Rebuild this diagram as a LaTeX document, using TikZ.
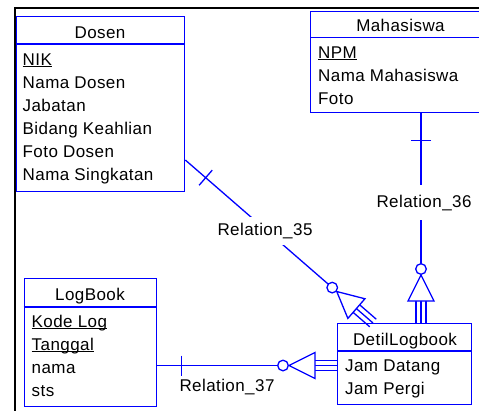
\documentclass[tikz,border=0pt]{standalone}
\usepackage{fontspec}
\setmainfont[LetterSpace=2.5]{Liberation Sans}
\usetikzlibrary{calc}
\definecolor{erblue}{RGB}{0,0,255}
\newlength\ulwd
\newcommand\ulk[1]{\settowidth\ulwd{#1}\rlap{\rule[-2.2pt]{\ulwd}{1.2pt}}#1}
\newcommand\erfont{\fontsize{17}{20}\selectfont}
\tikzset{
  ent/.style={draw=erblue, line width=1.3pt, anchor=north west, inner sep=0pt},
  rel/.style={draw=erblue, line width=1.3pt},
  attr/.style={anchor=base west, inner sep=0pt, font=\erfont},
  ttl/.style={anchor=base, inner sep=0pt, font=\erfont},
  lbl/.style={anchor=base, inner xsep=2pt, font=\erfont}
}
\newcommand\crowrel[3]{%
  \coordinate (cfB) at ($(#1)!22pt!(#2)$);
  \coordinate (cfA) at ($(#1)!48pt!(#2)$);
  \coordinate (cfC) at ($(#1)!54pt!(#2)$);
  \coordinate (cfT) at ($(#2)!#3!(#1)$);
  \draw[rel] (#2) -- (cfC);
  \draw[rel] ($(cfT)!10pt!90:(#1)$) -- ($(cfT)!10pt!-90:(#1)$);
  \foreach \o in {-5,0,5} {\draw[rel] ($(#1)!\o pt!90:(#2)$) -- ($(cfB)!\o pt!90:(#2)$);}
  \draw[rel, fill=white, line join=miter] ($(cfB)!13pt!90:(#2)$) -- (cfA) -- ($(cfB)!13pt!-90:(#2)$) -- cycle;
  \draw[rel, fill=white] (cfC) circle[radius=5.3pt];
}
\begin{document}
\begin{tikzpicture}[x=1pt, y=-1pt]
\useasboundingbox (0,0) rectangle (479,410);
\clip (0,0) rectangle (479,410);
% page frame
\draw[line width=2pt] (14.5,411) -- (14.5,8) -- (480,8);

% Dosen
\node[ent, minimum width=168.5pt, minimum height=175pt] (dosen) at (15.5,16) {};
\draw[rel] (dosen.west |- 0,44) -- (dosen.east |- 0,44);
\node[ttl] (dosenT) at (100,38) {Dosen};
\node[attr] (dosen1) at (22.5,65) {\ulk{NIK}};
\node[attr] (dosen2) at (22.5,88) {Nama Dosen};
\node[attr] (dosen3) at (22.5,111) {Jabatan};
\node[attr] (dosen4) at (22.5,134) {Bidang Keahlian};
\node[attr] (dosen5) at (22.5,157) {Foto Dosen};
\node[attr] (dosen6) at (22.5,180) {Nama Singkatan};

% Mahasiswa
\node[ent, minimum width=182pt, minimum height=101.5pt] (mhs) at (310,10.5) {};
\draw[rel] (mhs.west |- 0,37.5) -- (mhs.east |- 0,37.5);
\node[ttl] (mhsT) at (400.5,31) {Mahasiswa};
\node[attr] (mhs1) at (318,58) {\ulk{NPM}};
\node[attr] (mhs2) at (318,81) {Nama Mahasiswa};
\node[attr] (mhs3) at (318,104) {Foto};

% LogBook
\node[ent, minimum width=132.5pt, minimum height=128pt] (logbook) at (23.5,278) {};
\draw[rel] (logbook.west |- 0,307) -- (logbook.east |- 0,307);
\node[ttl] (logbookT) at (90,300) {LogBook};
\node[attr] (log1) at (31.5,327) {\ulk{Kode Log}};
\node[attr] (log2) at (31.5,350) {\ulk{Tanggal}};
\node[attr] (log3) at (31.5,373) {nama};
\node[attr] (log4) at (31.5,396) {sts};

% DetilLogbook
\node[ent, minimum width=134pt, minimum height=81pt] (detil) at (337,323) {};
\draw[rel] (detil.west |- 0,351) -- (detil.east |- 0,351);
\node[ttl] (detilT) at (405,345) {DetilLogbook};
\node[attr] (detil1) at (345,371) {Jam Datang};
\node[attr] (detil2) at (345,394) {Jam Pergi};

% relation end points
\coordinate (r35p) at (dosen.east |- 0,160);
\coordinate (r35e) at (373,0 |- detil.north);
\coordinate (r36p) at (421,0 |- mhs.south);
\coordinate (r36e) at (421,0 |- detil.north);
\coordinate (r37p) at (logbook.east |- 0,365.5);
\coordinate (r37e) at (detil.west |- 0,365.5);

\crowrel{r35e}{r35p}{27pt}
\crowrel{r36e}{r36p}{27pt}
\crowrel{r37e}{r37p}{24pt}

\node[lbl, fill=white, inner ysep=6pt] (lbl35) at (265,235.5) {Relation\_35};
\node[lbl, fill=white, inner ysep=10pt] (lbl36) at (424,207) {Relation\_36};
\node[lbl, inner sep=0pt] (lbl37) at (227,391) {Relation\_37};
\end{tikzpicture}
\end{document}
